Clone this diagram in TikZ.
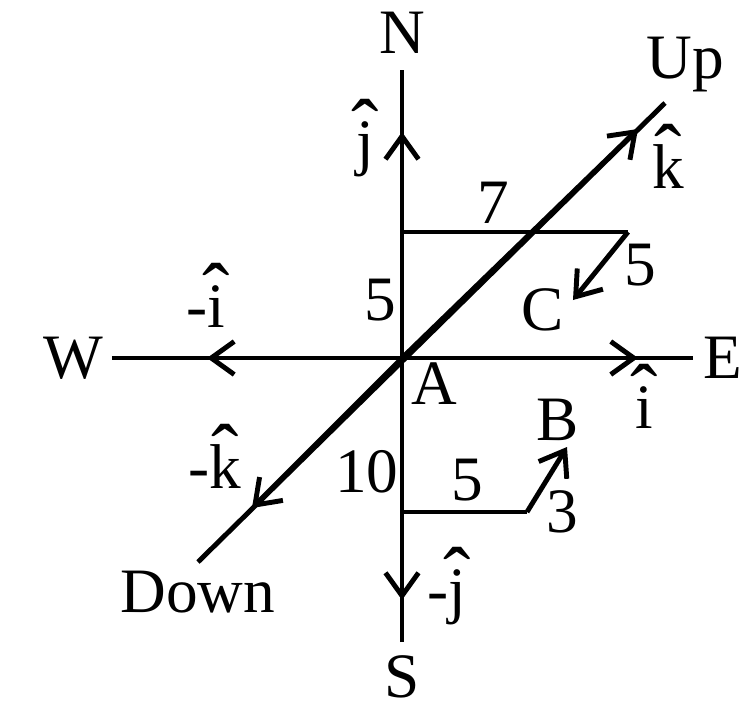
\RequirePackage{fix-cm}
\documentclass[tikz,border=0pt]{standalone}
\usepackage{fontspec}
\setmainfont{Liberation Serif}
\usepackage{tikz}
\usetikzlibrary{arrows.meta}
\newcommand{\uv}[1]{\ooalign{#1\cr\hidewidth\raisebox{0.12em}{\scalebox{1.3}{ˆ}}\hidewidth\cr}}

\begin{document}
\begin{tikzpicture}[
  ax/.style={line width=2.8pt},
  barb/.style={line width=2.8pt,-{Straight Barb[length=4.6mm,width=6.6mm]}},
  lbl/.style={font=\fontsize{36}{40}\selectfont,inner sep=0pt}]
  \useasboundingbox (-8.04,-7.12) rectangle (6.82,7.16);
  \coordinate (A) at (0,0);
  \coordinate (nEnd) at (0,5.76);
  \coordinate (sEnd) at (0,-5.68);
  \coordinate (wEnd) at (-5.8,0);
  \coordinate (eEnd) at (5.82,0);
  \coordinate (upEnd) at (5.26,5.1);
  \coordinate (downEnd) at (-4.08,-4.08);
  \coordinate (jTip) at (0,4.52);
  \coordinate (mjTip) at (0,-4.84);
  \coordinate (iTip) at (4.72,0);
  \coordinate (miTip) at (-3.9,0);
  \coordinate (kTip) at (4.72,4.58);
  \coordinate (mkTip) at (-3.0,-3.0);
  \coordinate (cStart) at (0,2.52);
  \coordinate (cBend) at (4.52,2.52);
  \coordinate (cTip) at (3.42,1.16);
  \coordinate (bStart) at (0,-3.08);
  \coordinate (bBend) at (2.5,-3.08);
  \coordinate (bTip) at (3.3,-1.78);

  \draw[ax] (sEnd) -- (nEnd);
  \draw[ax] (wEnd) -- (eEnd);
  \draw[ax] (downEnd) -- (upEnd);
  \draw[barb] (A) -- (jTip);
  \draw[barb] (A) -- (mjTip);
  \draw[barb] (A) -- (iTip);
  \draw[barb] (A) -- (miTip);
  \draw[barb] (A) -- (kTip);
  \draw[barb] (A) -- (mkTip);
  \draw[ax] (cStart) -- (cBend);
  \draw[barb] (cBend) -- (cTip);
  \draw[ax] (bStart) -- (bBend);
  \draw[barb] (bBend) -- (bTip);

  \node[lbl] (lN) at (0,6.5) {N};
  \node[lbl] (lS) at (0,-6.38) {S};
  \node[lbl] (lW) at (-6.58,0) {W};
  \node[lbl] (lE) at (6.42,0) {E};
  \node[lbl] (lUp) at (5.66,5.86) {Up};
  \node[lbl] (lDown) at (-4.08,-4.68) {Down};
  \node[lbl] (lA) at (0.64,-0.52) {A};
  \node[lbl] (lB) at (3.12,-1.24) {B};
  \node[lbl] (lC) at (2.82,0.96) {C};
  \node[lbl] (lj) at (-0.74,4.3) {\uv{j}};
  \node[lbl] (lmj) at (0.9,-4.66) {-\uv{j}};
  \node[lbl] (li) at (4.84,-1.0) {\uv{i}};
  \node[lbl] (lmi) at (-3.92,1.02) {-\uv{i}};
  \node[lbl] (lk) at (5.32,3.82) {\uv{k}};
  \node[lbl] (lmk) at (-3.74,-2.18) {-\uv{k}};
  \node[lbl] (lSeven) at (1.82,3.1) {7};
  \node[lbl] (lFiveN) at (-0.44,1.16) {5};
  \node[lbl] (lFiveC) at (4.76,1.86) {5};
  \node[lbl] (lTen) at (-0.7,-2.28) {10};
  \node[lbl] (lFiveB) at (1.3,-2.44) {5};
  \node[lbl] (lThree) at (3.2,-3.08) {3};
\end{tikzpicture}
\end{document}
